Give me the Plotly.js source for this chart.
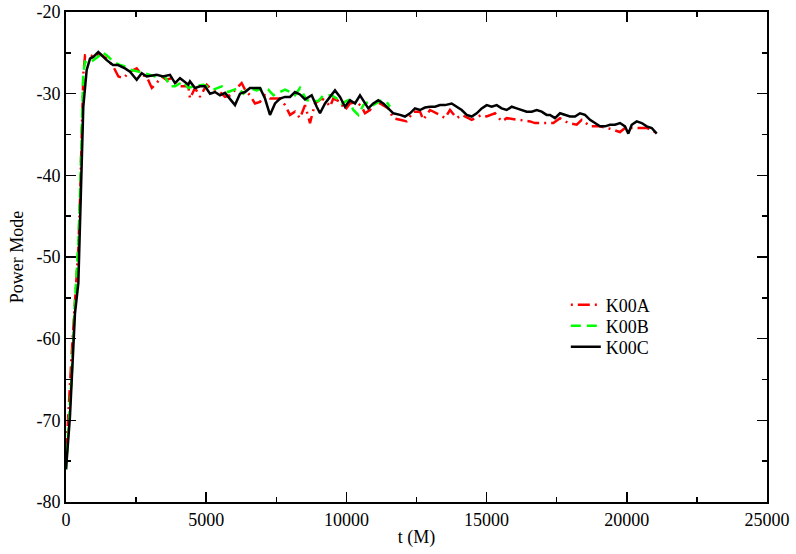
<!DOCTYPE html>
<html>
<head>
<meta charset="utf-8">
<script src="https://cdn.plot.ly/plotly-3.0.1.min.js"></script>
<style>html,body{margin:0;padding:0;background:#fff;}#chart{width:796px;height:554px;}</style>
</head>
<body>
<div id="chart"></div>
<script>
// K00A (red, dash-dot)
const tA = [0,100,200,320,440,500,560,620,680,856,1030,1210,1451,1690,1870,2050,2282,2521,2700,2878,3060,3235,3410,3590,3770,4066,4362,4422,4601,4779,5017,5136,5492,5670,5849,6087,6265,6384,6562,6740,6919,7097,7275,7454,7632,7810,7989,8167,8345,8524,8702,8880,9119,9297,9415,9533,9772,9950,10128,10367,10545,10663,10842,11020,11198,11494,11673,11912,12150,12386,12625,12743,12981,13338,13516,13695,13933,14112,14468,14825,15003,15300,15538,15717,16131,16548,16726,17022,17379,17618,17914,18214,18392,18688,19044,19401,19758,19936,20410,20710,21006];
const yA = [-74.5,-68,-62,-55.5,-49,-43,-35,-27.5,-25.3,-25.3,-25.5,-25.1,-25.7,-26.7,-27.9,-28.1,-27.3,-26.9,-27.7,-27.9,-29.3,-28.7,-27.9,-28.3,-28.1,-29.1,-29.1,-30.6,-29.3,-30.4,-28.9,-29.3,-29.8,-30.4,-30.2,-29.3,-28.7,-29.5,-30.2,-31.2,-31.0,-30.2,-30.6,-30.6,-30.6,-31.4,-32.6,-32.2,-33.0,-31.4,-33.6,-31.2,-30.6,-31.0,-31.6,-30.6,-31.0,-32.0,-31.2,-31.0,-31.6,-32.4,-32.0,-31.0,-31.2,-31.8,-33.0,-33.2,-33.4,-32.2,-32.2,-33.2,-32.0,-32.6,-33.0,-32.0,-33.0,-32.6,-33.2,-32.6,-32.8,-32.4,-33.4,-33.0,-33.2,-33.4,-33.6,-33.6,-33.6,-33.0,-33.6,-33.8,-33.2,-34.0,-34.0,-34.3,-34.7,-34.2,-34.2,-34.2,-34.7];

// K00B (green, dashed)
const tB = [0,83,202,321,440,500,560,617,678,795,974,1213,1273,1451,1690,1930,2163,2340,2580,2818,3175,3530,3710,3890,4185,4362,4540,4900,5257,5555,5790,6150,6327,6505,6800,7030,7213,7400,7632,7810,7989,8167,8345,8584,8763,9000,9178,9474,9654,9832,10068,10247,10425,10603,10781,10959,11256,11435,11554];
const yB = [-76.0,-71.5,-64.6,-55.3,-48.3,-42.2,-34.0,-27.5,-26.1,-26.3,-25.9,-25.3,-24.9,-25.3,-26.1,-26.5,-26.7,-27.1,-27.3,-27.5,-27.9,-27.9,-29.1,-29.1,-28.5,-29.3,-29.1,-28.9,-29.5,-29.1,-29.8,-29.3,-30.0,-29.3,-29.6,-29.3,-29.5,-30.2,-29.8,-29.5,-29.8,-30.2,-29.3,-30.8,-30.9,-30.9,-30.2,-30.2,-30.6,-31.2,-30.8,-32.0,-32.6,-31.4,-31.0,-31.4,-30.8,-31.0,-31.6];

// K00C (black, solid)
const tC = [0,140,320,440,500,560,617,738,856,974,1152,1273,1451,1676,1855,2104,2282,2521,2700,2878,3235,3459,3709,3887,4066,4362,4422,4601,4779,4957,5136,5314,5492,5670,5849,6027,6205,6384,6562,6740,6919,7097,7275,7454,7632,7810,7989,8167,8345,8524,8763,8941,9058,9237,9415,9593,9772,9950,10128,10307,10485,10663,10781,10959,11138,11316,11494,11673,11912,12090,12268,12447,12625,12803,12981,13160,13338,13516,13755,13933,14112,14290,14468,14647,14825,15003,15182,15360,15538,15717,15895,16074,16252,16430,16609,16787,16965,17140,17261,17440,17618,17796,17974,18153,18331,18509,18688,18866,19044,19223,19401,19579,19758,19936,20054,20175,20354,20532,20710,20889,21067];
const yC = [-76.0,-69.6,-56.9,-53.2,-45.9,-37.7,-31.6,-27.1,-25.7,-25.5,-24.9,-25.3,-25.9,-26.5,-26.5,-26.9,-27.3,-28.3,-27.5,-27.9,-27.7,-27.9,-27.7,-28.7,-28.1,-28.9,-28.5,-29.3,-29.1,-29.1,-30.0,-29.8,-30.2,-29.9,-30.6,-31.4,-30.0,-29.8,-29.3,-29.3,-29.3,-30.6,-32.6,-31.2,-30.6,-30.4,-30.4,-29.8,-30.1,-30.7,-30.2,-31.6,-32.4,-31.2,-30.4,-29.6,-30.4,-31.6,-30.8,-31.2,-30.2,-31.2,-31.8,-31.2,-30.8,-31.2,-31.8,-32.4,-32.6,-32.8,-32.4,-31.8,-32.0,-31.7,-31.6,-31.6,-31.4,-31.4,-31.2,-31.6,-32.0,-32.6,-32.8,-32.4,-31.8,-31.4,-31.6,-31.4,-31.8,-32.0,-31.6,-31.8,-32.0,-32.2,-32.2,-32.0,-32.2,-32.6,-32.6,-33.0,-32.4,-32.6,-32.8,-32.8,-32.4,-32.6,-33.2,-33.6,-34.0,-34.0,-33.8,-33.8,-33.6,-34.0,-34.9,-33.8,-33.4,-33.6,-34.0,-34.2,-34.9];

const seriesNames = ['K00A','K00B','K00C'];
const xTickVals = [0,5000,10000,15000,20000,25000];
const xTickText = ['0','5000','10000','15000','20000','25000'];
const yTickVals = [-80,-70,-60,-50,-40,-30,-20];
const yTickText = ['-80','-70','-60','-50','-40','-30','-20'];

const traces = [
  {x:tA, y:yA, name:seriesNames[0], type:'scatter', mode:'lines', legend:'legend',
   line:{color:'#ff0000', width:2.5, dash:'2px,5px,12px,5px'}},
  {x:tB, y:yB, name:seriesNames[1], type:'scatter', mode:'lines', legend:'legend2',
   line:{color:'#00ff00', width:2.5, dash:'10px,6px'}},
  {x:tC, y:yC, name:seriesNames[2], type:'scatter', mode:'lines', legend:'legend3',
   line:{color:'#000000', width:2.5}}
];

const font = {family:'"Liberation Serif", "Times New Roman", serif', size:18, color:'#000'};

const axisCommon = {
  showline:true, linecolor:'#000', linewidth:2, mirror:'ticks',
  ticks:'inside', ticklen:10, tickwidth:1.5, tickcolor:'#000',
  showgrid:false, zeroline:false, tickmode:'array',
  tickfont:font
};

function legendAt(yc){
  return {x:0.713, y:yc, xanchor:'left', yanchor:'middle', bgcolor:'rgba(0,0,0,0)',
          borderwidth:0, font:font, tracegroupgap:0};
}

const layout = {
  width:796, height:554,
  margin:{l:66, r:29, t:12, b:52},
  paper_bgcolor:'#fff', plot_bgcolor:'#fff',
  font:font,
  showlegend:true,
  legend:legendAt(0.402),
  legend2:legendAt(0.359),
  legend3:legendAt(0.316),
  xaxis:Object.assign({}, axisCommon, {
    range:[0,25000], tickvals:xTickVals, ticktext:xTickText,
    minor:{ticks:'inside', ticklen:5, tickwidth:1.5, tickcolor:'#000', dtick:2500, tick0:0},
    title:{text:'t (M)', font:font, standoff:2}, automargin:false
  }),
  yaxis:Object.assign({}, axisCommon, {
    range:[-80,-20], tickvals:yTickVals, ticktext:yTickText,
    minor:{ticks:'inside', ticklen:5, tickwidth:1.5, tickcolor:'#000', dtick:5, tick0:-80},
    title:{text:'Power Mode', font:font, standoff:8}, automargin:false
  })
};

Plotly.newPlot('chart', traces, layout, {displayModeBar:false, staticPlot:true});
</script>
</body>
</html>
